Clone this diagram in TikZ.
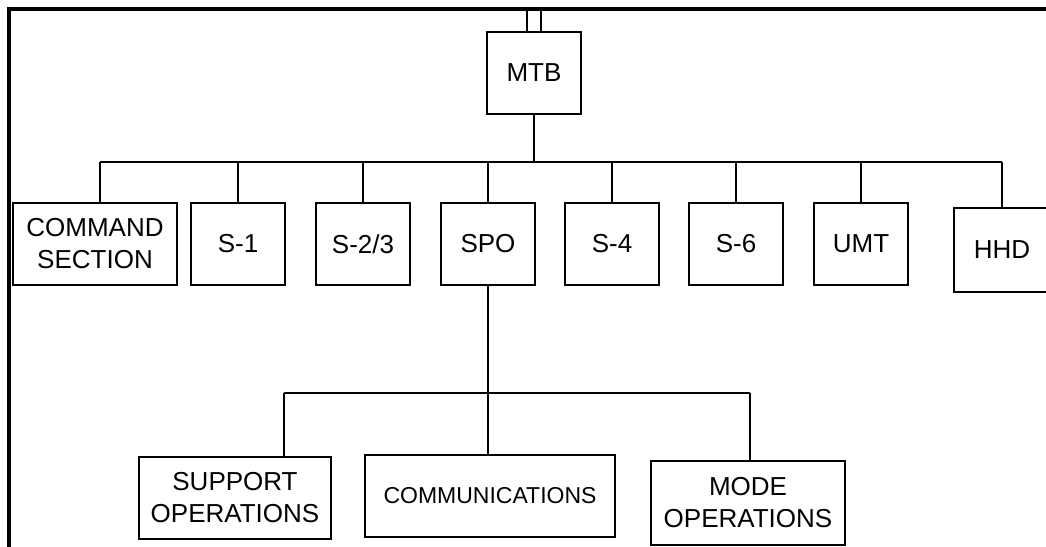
\documentclass[tikz,border=0pt]{standalone}
\usepackage{fontspec}
\setmainfont{Liberation Sans}
\usepackage{tikz}
\usetikzlibrary{positioning}

\begin{document}
\begin{tikzpicture}[
  x=1pt, y=-1pt,
  font=\fontsize{26}{32}\selectfont,
  unit/.style={draw, line width=1.5pt, align=center, inner sep=0pt,
               minimum height=82pt, minimum width=94pt},
  link/.style={line width=1.3pt},
  ]
  \useasboundingbox (0,0) rectangle (1046,546);

  % --- outer frame (top and left edges only) ---
  \draw[line width=3.5pt] (9,560) -- (9,9) -- (1060,9);
  \coordinate (frametop) at (0,9);

  % --- top unit ---
  \node[unit] (mtb) at (534,73) {MTB};

  % --- staff sections ---
  \node[unit, minimum width=164pt] (cmd) at (95,244) {COMMAND\\SECTION};
  \node[unit] (s1)  at (238,244) {S-1};
  \node[unit] (s23) at (363,244) {S-2/3};
  \node[unit] (spo) at (488,244) {SPO};
  \node[unit] (s4)  at (612,244) {S-4};
  \node[unit] (s6)  at (736,244) {S-6};
  \node[unit] (umt) at (861,244) {UMT};
  \node[unit, minimum width=96pt, minimum height=84pt] (hhd) at (1002,250) {HHD};

  % --- SPO branches ---
  \node[unit, minimum width=192pt] (sup)  at (235,498) {SUPPORT\\OPERATIONS};
  \node[unit, minimum width=250pt, font=\fontsize{23}{28}\selectfont]
    (comm) at (490,496) {COMMUNICATIONS};
  \node[unit, minimum width=194pt, minimum height=84pt] (mode) at (748,503)
    {MODE\\OPERATIONS};

  % --- double feed into MTB ---
  \draw[link] ([xshift=-7pt]mtb.north) -- ([xshift=-7pt]mtb.north |- frametop);
  \draw[link] ([xshift=7pt]mtb.north) -- ([xshift=7pt]mtb.north |- frametop);

  % --- staff bus ---
  \coordinate (bus) at (0,162);
  \coordinate (cmdtap) at (100,0);
  \draw[link] (mtb.south) -- (mtb.south |- bus);
  \draw[link] (cmdtap |- bus) -- (hhd.north |- bus);
  \draw[link] (cmdtap |- cmd.north) -- (cmdtap |- bus);
  \foreach \n in {s1, s23, spo, s4, s6, umt, hhd}
    \draw[link] (\n.north) -- (\n.north |- bus);

  % --- SPO bus ---
  \coordinate (spobus) at (0,393);
  \coordinate (suptap) at (284,0);
  \coordinate (modetap) at (750,0);
  \draw[link] (spo.south) -- (spo.south |- comm.north);
  \draw[link] (suptap |- spobus) -- (modetap |- spobus);
  \draw[link] (suptap |- spobus) -- (suptap |- sup.north);
  \draw[link] (modetap |- spobus) -- (modetap |- mode.north);

\end{tikzpicture}
\end{document}
